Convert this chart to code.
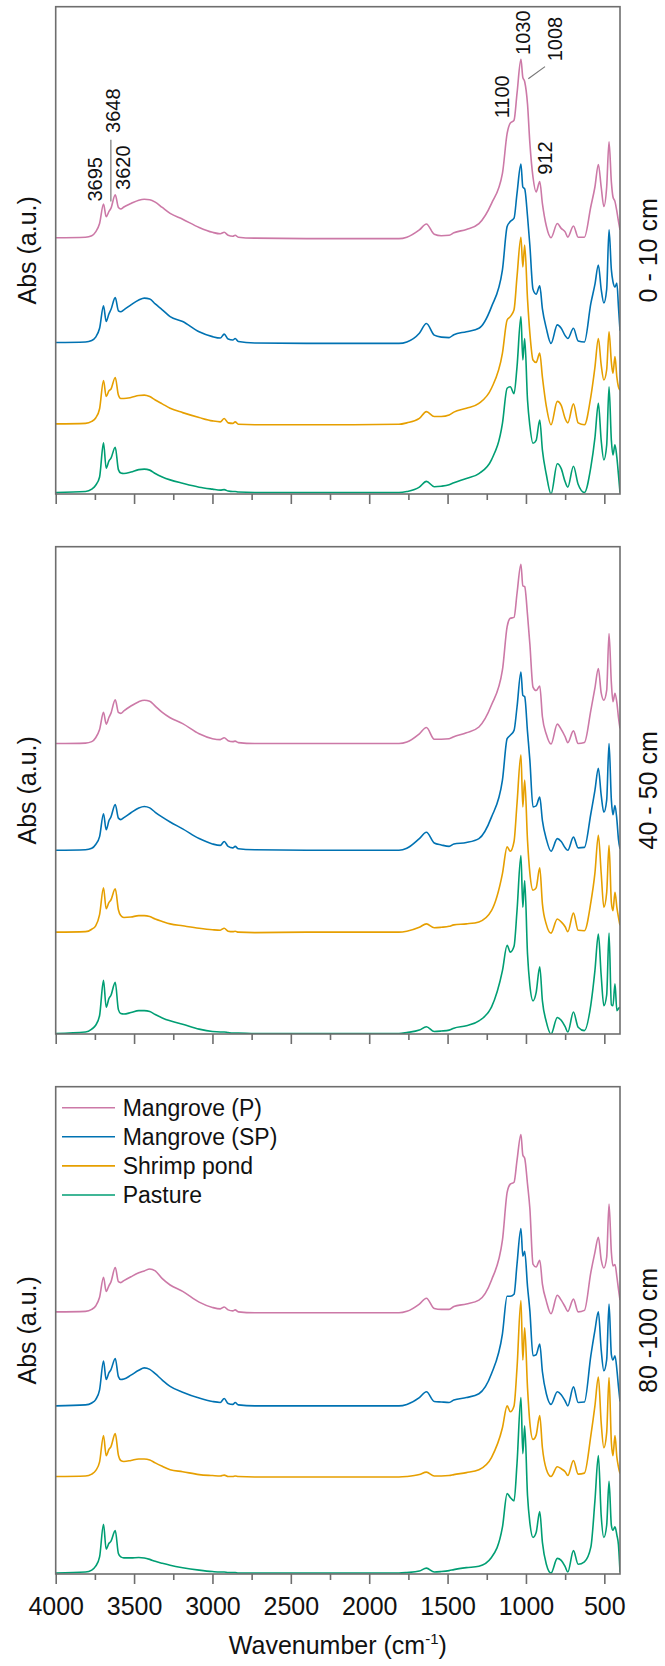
<!DOCTYPE html>
<html>
<head>
<meta charset="utf-8">
<script src="https://cdn.jsdelivr.net/npm/d3@7"></script>
<style>
  body { margin: 0; background: #fff; }
  text { font-family: 'Liberation Sans', Arial, sans-serif; fill: #111; }
</style>
</head>
<body>
<div id="chart"></div>
<script>
// shared wavenumber grid (cm-1) the spectra were read at
let wavenumbers = [
  4000, 3810, 3770, 3745, 3720, 3695, 3678, 3660, 3648, 3620,
  3600, 3585, 3565, 3520, 3470, 3435, 3400, 3365, 3320, 3270,
  3190, 3085, 3000, 2950, 2925, 2900, 2870, 2855, 2835, 2730,
  2400, 2100, 1810, 1760, 1680, 1635, 1585, 1540, 1490, 1460,
  1380, 1300, 1220, 1150, 1120, 1100, 1076, 1057, 1032, 1020,
  1008, 990, 975, 955, 935, 912, 895, 870, 840, 800,
  775, 750, 733, 697, 667, 627, 586, 560, 538, 520,
  503, 485, 470, 455, 445, 432, 420, 410, 400
]

let seriesNames = ['Mangrove (P)', 'Mangrove (SP)', 'Shrimp pond', 'Pasture']
let seriesColors = ['#cc79a7', '#0072b2', '#e69f00', '#009e73']
let depthLabels = ['0 - 10 cm', '40 - 50 cm', '80 -100 cm']
let majorTicks = [4000, 3500, 3000, 2500, 2000, 1500, 1000, 500]
let minorTicks = [3750, 3250, 2750, 2250, 1750, 1250, 750]

// stacked absorbance (a.u., offsets included), 0 - 10 cm
let d1MangroveP = [
  52.6, 52.7, 53.0, 53.8, 55.5, 59.5, 56.9, 58.0, 58.6, 61.4,
  58.8, 58.5, 58.9, 59.6, 60.3, 60.5, 60.4, 59.9, 58.8, 57.6,
  56.4, 54.7, 53.7, 53.4, 53.7, 53.1, 52.9, 53.1, 52.7, 52.5,
  52.4, 52.4, 52.4, 52.7, 54.2, 55.4, 53.3, 53.0, 53.1, 53.6,
  54.3, 55.5, 59.6, 65.8, 74.0, 76.1, 76.7, 82.2, 89.2, 85.5,
  84.6, 80.0, 72.0, 65.0, 62.0, 64.1, 59.6, 55.0, 52.6, 55.5,
  54.5, 53.8, 52.7, 55.0, 52.7, 52.7, 59.0, 63.0, 67.6, 63.0,
  59.0, 63.0, 72.3, 64.0, 61.0, 60.0, 58.0, 56.0, 54.2
]
let d1MangroveSP = [
  31.1, 31.2, 31.5, 32.2, 34.0, 38.6, 35.4, 37.0, 37.8, 40.3,
  37.6, 37.4, 37.8, 38.8, 39.8, 40.2, 40.0, 39.0, 37.8, 36.4,
  35.4, 33.3, 32.3, 32.0, 32.8, 31.8, 31.6, 31.9, 31.3, 31.0,
  30.9, 30.9, 30.9, 31.2, 33.0, 35.0, 32.6, 32.2, 32.1, 32.7,
  33.3, 34.0, 38.4, 46.0, 54.9, 55.9, 56.6, 61.7, 67.7, 63.0,
  62.6, 57.0, 51.0, 42.0, 41.0, 42.7, 38.0, 34.0, 30.9, 34.7,
  34.0, 32.5, 31.9, 34.0, 31.4, 31.2, 39.1, 43.0, 47.0, 42.0,
  39.2, 42.0, 54.2, 46.0, 43.6, 42.5, 43.3, 38.5, 33.5
]
let d1Shrimp = [
  14.4, 14.5, 14.9, 15.6, 17.5, 23.3, 20.0, 21.2, 21.5, 23.9,
  20.3, 19.6, 19.6, 19.8, 20.2, 20.3, 20.0, 19.3, 18.5, 17.6,
  16.7, 15.7, 15.0, 14.8, 15.5, 14.6, 14.5, 14.8, 14.3, 14.2,
  14.2, 14.2, 14.3, 14.6, 15.5, 16.9, 15.9, 15.9, 16.2, 16.8,
  17.6, 18.6, 21.7, 28.9, 35.7, 36.4, 37.8, 44.6, 52.7, 46.6,
  51.1, 40.0, 33.0, 27.5, 27.0, 28.9, 24.0, 18.0, 14.2, 19.0,
  18.2, 15.5, 14.6, 18.5, 14.6, 14.2, 20.0, 26.0, 31.9, 26.5,
  23.4, 25.5, 33.3, 27.0, 24.8, 28.2, 24.0, 22.0, 21.3
]
let d1Pasture = [
  0.3, 0.5, 1.0, 1.8, 3.5, 10.5, 5.3, 6.8, 7.3, 9.6,
  5.0, 4.3, 4.2, 4.5, 5.0, 5.1, 4.9, 4.2, 3.5, 2.9,
  2.2, 1.4, 1.0, 0.8, 0.9, 0.6, 0.5, 0.5, 0.4, 0.3,
  0.3, 0.3, 0.3, 0.5, 1.4, 2.6, 1.5, 1.6, 1.9, 2.3,
  3.2, 4.2, 7.0, 14.5, 21.7, 22.0, 20.6, 26.1, 36.4, 27.5,
  31.9, 19.3, 14.0, 10.4, 11.0, 15.2, 9.0, 4.0, 0.0, 6.2,
  5.2, 2.5, 1.4, 5.7, 2.0, 0.3, 5.5, 11.5, 18.6, 11.0,
  7.0, 10.0, 22.0, 11.0, 8.0, 10.1, 7.5, 4.0, 0.3
]

// 40 - 50 cm
let d2MangroveP = [
  59.6, 59.7, 60.0, 60.8, 62.5, 66.0, 63.6, 65.0, 65.8, 68.6,
  66.0, 65.8, 66.3, 67.3, 68.2, 68.5, 68.3, 67.3, 66.0, 64.9,
  63.7, 61.6, 60.6, 60.4, 60.8, 60.2, 60.0, 60.1, 59.8, 59.6,
  59.6, 59.6, 59.6, 59.9, 61.6, 62.9, 60.5, 60.5, 60.6, 61.0,
  61.8, 63.0, 67.5, 74.7, 83.6, 85.3, 85.5, 90.4, 96.4, 92.0,
  91.8, 86.0, 80.0, 71.2, 70.5, 71.4, 65.1, 61.5, 59.5, 63.6,
  62.5, 61.0, 59.8, 62.2, 59.6, 59.8, 66.4, 71.0, 75.0, 70.0,
  68.5, 70.5, 82.2, 72.0, 68.2, 69.9, 68.0, 65.0, 62.7
]
let d2MangroveSP = [
  37.7, 37.8, 38.1, 38.9, 40.5, 45.2, 41.9, 43.8, 44.5, 47.1,
  44.3, 44.0, 44.4, 45.4, 46.4, 46.7, 46.4, 45.5, 44.5, 43.5,
  42.1, 40.1, 39.0, 38.7, 39.5, 38.5, 38.2, 38.5, 38.0, 37.8,
  37.7, 37.7, 37.7, 38.1, 40.1, 41.4, 39.2, 38.8, 38.5, 39.0,
  39.3, 40.1, 44.5, 52.1, 60.6, 61.3, 62.3, 67.1, 74.3, 69.5,
  69.2, 62.0, 56.2, 46.6, 46.8, 48.6, 43.8, 40.0, 37.5, 40.1,
  39.5, 38.2, 37.7, 40.4, 38.2, 38.3, 45.2, 50.0, 54.5, 49.0,
  45.5, 48.0, 59.6, 48.0, 45.0, 46.9, 44.0, 40.0, 38.0
]
let d2Shrimp = [
  20.9, 21.0, 21.5, 22.2, 24.5, 30.0, 25.7, 27.0, 27.5, 29.8,
  25.5, 24.3, 23.9, 24.0, 24.3, 24.3, 24.1, 23.6, 23.1, 22.6,
  22.2, 21.7, 21.4, 21.3, 21.7, 21.1, 21.0, 21.1, 20.9, 20.8,
  20.9, 20.9, 20.9, 21.1, 21.9, 22.6, 21.8, 21.9, 22.1, 22.4,
  22.6, 23.0, 25.3, 32.9, 38.4, 37.5, 39.5, 47.3, 57.3, 46.6,
  52.1, 39.7, 33.0, 29.5, 30.0, 34.1, 26.7, 22.5, 20.7, 23.6,
  23.0, 22.0, 21.0, 24.8, 21.3, 21.2, 27.0, 33.0, 40.8, 33.0,
  26.0, 29.0, 38.7, 27.0, 25.3, 29.1, 26.0, 24.0, 22.3
]
let d2Pasture = [
  0.1, 0.4, 1.0, 1.8, 3.8, 11.0, 5.5, 7.3, 7.9, 10.6,
  5.0, 4.2, 4.1, 4.4, 4.8, 4.8, 4.6, 4.0, 3.3, 2.7,
  2.0, 1.0, 0.5, 0.4, 0.4, 0.3, 0.2, 0.2, 0.2, 0.1,
  0.1, 0.1, 0.1, 0.3, 0.8, 1.5, 0.5, 0.6, 0.8, 1.2,
  1.7, 2.7, 5.5, 13.0, 18.2, 16.8, 18.0, 25.3, 36.6, 26.0,
  31.5, 16.4, 10.0, 6.8, 8.5, 13.8, 6.8, 2.5, 0.0, 3.4,
  2.8, 1.5, 0.4, 4.5, 1.4, 0.7, 6.0, 13.0, 20.5, 12.0,
  5.8, 8.0, 20.7, 6.0, 5.8, 10.3, 4.8, 5.2, 5.5
]

// 80 - 100 cm
let d3MangroveP = [
  53.8, 53.9, 54.3, 55.0, 56.8, 60.9, 58.0, 59.2, 59.9, 62.9,
  60.0, 59.8, 60.2, 61.0, 61.8, 62.2, 62.6, 62.2, 60.6, 59.3,
  58.0, 55.8, 54.7, 54.4, 54.8, 54.2, 54.0, 54.2, 53.8, 53.6,
  53.6, 53.6, 53.6, 53.9, 55.4, 56.6, 54.5, 54.3, 54.3, 54.9,
  55.4, 56.2, 60.3, 68.5, 78.3, 80.0, 80.4, 84.9, 90.2, 86.0,
  85.3, 80.0, 75.0, 63.6, 63.0, 64.4, 59.5, 56.0, 53.4, 57.2,
  56.2, 54.8, 53.9, 56.4, 53.8, 54.1, 61.9, 66.0, 69.1, 64.5,
  62.8, 65.0, 75.9, 66.0, 63.2, 63.5, 61.0, 58.5, 56.2
]
let d3MangroveSP = [
  34.5, 34.7, 35.1, 35.8, 37.8, 43.7, 39.9, 41.3, 41.9, 44.2,
  40.5, 39.9, 40.0, 40.8, 41.8, 42.3, 42.0, 41.1, 39.8, 38.5,
  37.3, 36.1, 35.4, 35.2, 36.0, 35.0, 34.8, 35.2, 34.7, 34.5,
  34.5, 34.5, 34.5, 34.8, 36.2, 37.4, 35.4, 35.3, 35.2, 35.7,
  36.2, 37.0, 41.1, 49.3, 57.0, 57.0, 57.4, 63.6, 70.9, 65.2,
  66.2, 59.0, 54.0, 44.8, 45.0, 47.2, 41.5, 37.0, 34.8, 37.4,
  36.8, 35.5, 34.5, 38.4, 35.2, 35.3, 44.8, 50.0, 53.8, 46.0,
  41.7, 44.0, 55.4, 45.0, 43.9, 44.8, 42.0, 38.5, 35.4
]
let d3Shrimp = [
  20.0, 20.1, 20.5, 21.2, 23.0, 28.4, 24.3, 25.6, 26.1, 28.8,
  24.4, 23.3, 23.1, 23.3, 23.6, 23.6, 23.4, 22.8, 22.1, 21.4,
  21.0, 20.4, 20.2, 20.1, 20.3, 20.0, 20.0, 20.1, 20.0, 19.9,
  19.9, 19.9, 19.9, 20.0, 20.4, 20.9, 20.1, 20.1, 20.2, 20.4,
  20.8, 21.4, 23.9, 30.0, 34.5, 33.3, 34.5, 42.3, 56.1, 43.9,
  50.5, 38.2, 31.0, 27.6, 28.5, 32.5, 25.9, 21.5, 20.0, 22.0,
  21.6, 21.0, 20.2, 23.3, 20.5, 20.7, 28.4, 34.5, 40.4, 31.0,
  25.9, 29.0, 40.3, 27.0, 24.3, 28.4, 24.0, 22.0, 20.6
]
let d3Pasture = [
  0.2, 0.4, 0.8, 1.6, 3.5, 10.2, 5.1, 6.3, 6.7, 8.9,
  4.2, 3.5, 3.3, 3.3, 3.4, 3.3, 3.0, 2.6, 2.2, 1.8,
  1.3, 0.8, 0.5, 0.4, 0.4, 0.3, 0.3, 0.3, 0.2, 0.2,
  0.2, 0.2, 0.2, 0.3, 0.6, 1.2, 0.4, 0.5, 0.7, 0.9,
  1.3, 1.6, 3.4, 9.6, 16.5, 15.7, 15.0, 22.7, 36.2, 24.7,
  30.4, 16.1, 10.5, 7.5, 8.5, 12.8, 6.5, 2.0, 0.2, 3.2,
  2.8, 1.5, 0.4, 4.8, 2.0, 2.5, 5.5, 15.0, 24.3, 12.0,
  7.5, 10.0, 19.0, 10.0, 9.0, 9.7, 8.0, 6.0, 0.4
]

let panels = [
  [d1MangroveP, d1MangroveSP, d1Shrimp, d1Pasture],
  [d2MangroveP, d2MangroveSP, d2Shrimp, d2Pasture],
  [d3MangroveP, d3MangroveSP, d3Shrimp, d3Pasture]
]

// peak labels in the top panel (v = a.u. where the text ends)
let peakLabels = [
  { label: '3695', wn: 3695, v: 60.0, dx: -1.5 },
  { label: '3648', wn: 3648, v: 74.1, dx: 9.6 },
  { label: '3620', wn: 3620, v: 62.4, dx: 15.2 },
  { label: '1100', wn: 1100, v: 77.1, dx: -1.3 },
  { label: '1030', wn: 1030, v: 90.1, dx: 9.2 },
  { label: '1008', wn: 1008, v: 88.8, dx: 37.3 },
  { label: '912', wn: 912, v: 65.5, dx: 12.3 }
]

let width = 665
let height = 1666
let plotLeft = 55.7
let plotRight = 620
let panelTops = [6.7, 546.7, 1086.7]
let panelHeight = 487.3
let frameColor = '#6e6e6e'

let svg = d3
  .select('#chart')
  .append('svg')
  .attr('width', width)
  .attr('height', height)

let xPositionScale = d3
  .scaleLinear()
  .domain([4000, 400])
  .range([plotLeft, plotRight])

let yPositionScale = d3
  .scaleLinear()
  .domain([0, 100])
  .range([panelHeight, 0])

let line = d3
  .line()
  .x(d => xPositionScale(d[0]))
  .y(d => yPositionScale(d[1]))
  .curve(d3.curveMonotoneX)

svg
  .append('clipPath')
  .attr('id', 'plot-clip')
  .append('rect')
  .attr('x', plotLeft)
  .attr('y', 0)
  .attr('width', plotRight - plotLeft)
  .attr('height', panelHeight)

panels.forEach((spectra, i) => {
  let g = svg
    .append('g')
    .attr('transform', 'translate(0,' + panelTops[i] + ')')

  let traces = g.append('g').attr('clip-path', 'url(#plot-clip)')
  spectra.forEach((values, j) => {
    let points = values.map((v, k) => [wavenumbers[k], v])
    traces
      .append('path')
      .datum(points)
      .attr('d', line)
      .attr('fill', 'none')
      .attr('stroke', seriesColors[j])
      .attr('stroke-width', 1.6)
      .attr('stroke-linejoin', 'round')
  })

  // minor ticks
  let minorAxis = d3
    .axisBottom(xPositionScale)
    .tickValues(minorTicks)
    .tickSize(6)
    .tickFormat('')
  g.append('g')
    .attr('class', 'axis minor')
    .attr('transform', 'translate(0,' + panelHeight + ')')
    .call(minorAxis)

  // major ticks, labels only on the last panel
  let majorAxis = d3
    .axisBottom(xPositionScale)
    .tickValues(majorTicks)
    .tickSize(10)
    .tickPadding(13)
    .tickFormat(i === 2 ? d3.format('d') : '')
  g.append('g')
    .attr('class', 'axis major')
    .attr('transform', 'translate(0,' + panelHeight + ')')
    .call(majorAxis)

  g.selectAll('.axis .domain').remove()
  g.selectAll('.axis line')
    .attr('stroke', frameColor)
    .attr('stroke-width', 1.6)
  g.selectAll('.axis text')
    .attr('font-size', 25)
    .attr('font-family', "'Liberation Sans', Arial, sans-serif")
    .attr('fill', '#111')

  g.append('rect')
    .attr('x', plotLeft)
    .attr('y', 0)
    .attr('width', plotRight - plotLeft)
    .attr('height', panelHeight)
    .attr('fill', 'none')
    .attr('stroke', frameColor)
    .attr('stroke-width', 1.6)

  // left title
  g.append('text')
    .attr('transform', 'translate(36,' + panelHeight / 2 + ') rotate(-90)')
    .attr('text-anchor', 'middle')
    .attr('font-size', 25)
    .text('Abs (a.u.)')

  // depth label on the right
  g.append('text')
    .attr('transform', 'translate(657,' + panelHeight / 2 + ') rotate(-90)')
    .attr('text-anchor', 'middle')
    .attr('font-size', 25)
    .text(depthLabels[i])

  if (i === 0) {
    peakLabels.forEach(p => {
      g.append('text')
        .attr(
          'transform',
          'translate(' +
            (xPositionScale(p.wn) + p.dx) +
            ',' +
            yPositionScale(p.v) +
            ') rotate(-90)'
        )
        .attr('text-anchor', 'start')
        .attr('font-size', 20)
        .text(p.label)
    })

    // leader for 3648
    g.append('line')
      .attr('x1', xPositionScale(3648))
      .attr('x2', xPositionScale(3648))
      .attr('y1', yPositionScale(60.0))
      .attr('y2', yPositionScale(72.7))
      .attr('stroke', '#777')
      .attr('stroke-width', 1.2)

    // leader for 1008
    g.append('line')
      .attr('x1', xPositionScale(1008) + 3.6)
      .attr('y1', yPositionScale(85.2))
      .attr('x2', xPositionScale(1008) + 20.3)
      .attr('y2', yPositionScale(87.7))
      .attr('stroke', '#777')
      .attr('stroke-width', 1.2)
  }

  if (i === 2) {
    let legend = g.append('g').attr('class', 'legend')
    seriesNames.forEach((name, j) => {
      let ly = 21 + j * 29.1
      legend
        .append('line')
        .attr('x1', 62)
        .attr('x2', 115)
        .attr('y1', ly)
        .attr('y2', ly)
        .attr('stroke', seriesColors[j])
        .attr('stroke-width', 1.6)
      legend
        .append('text')
        .attr('x', 122.7)
        .attr('y', ly)
        .attr('dy', '0.35em')
        .attr('font-size', 23)
        .text(name)
    })
  }
})

// x axis title
let xTitle = svg
  .append('text')
  .attr('x', (plotLeft + plotRight) / 2)
  .attr('y', 1654)
  .attr('text-anchor', 'middle')
  .attr('font-size', 25)
xTitle.append('tspan').text('Wavenumber (cm')
xTitle
  .append('tspan')
  .attr('dy', -10)
  .attr('font-size', 15)
  .text('-1')
xTitle
  .append('tspan')
  .attr('dy', 10)
  .text(')')
</script>
</body>
</html>
